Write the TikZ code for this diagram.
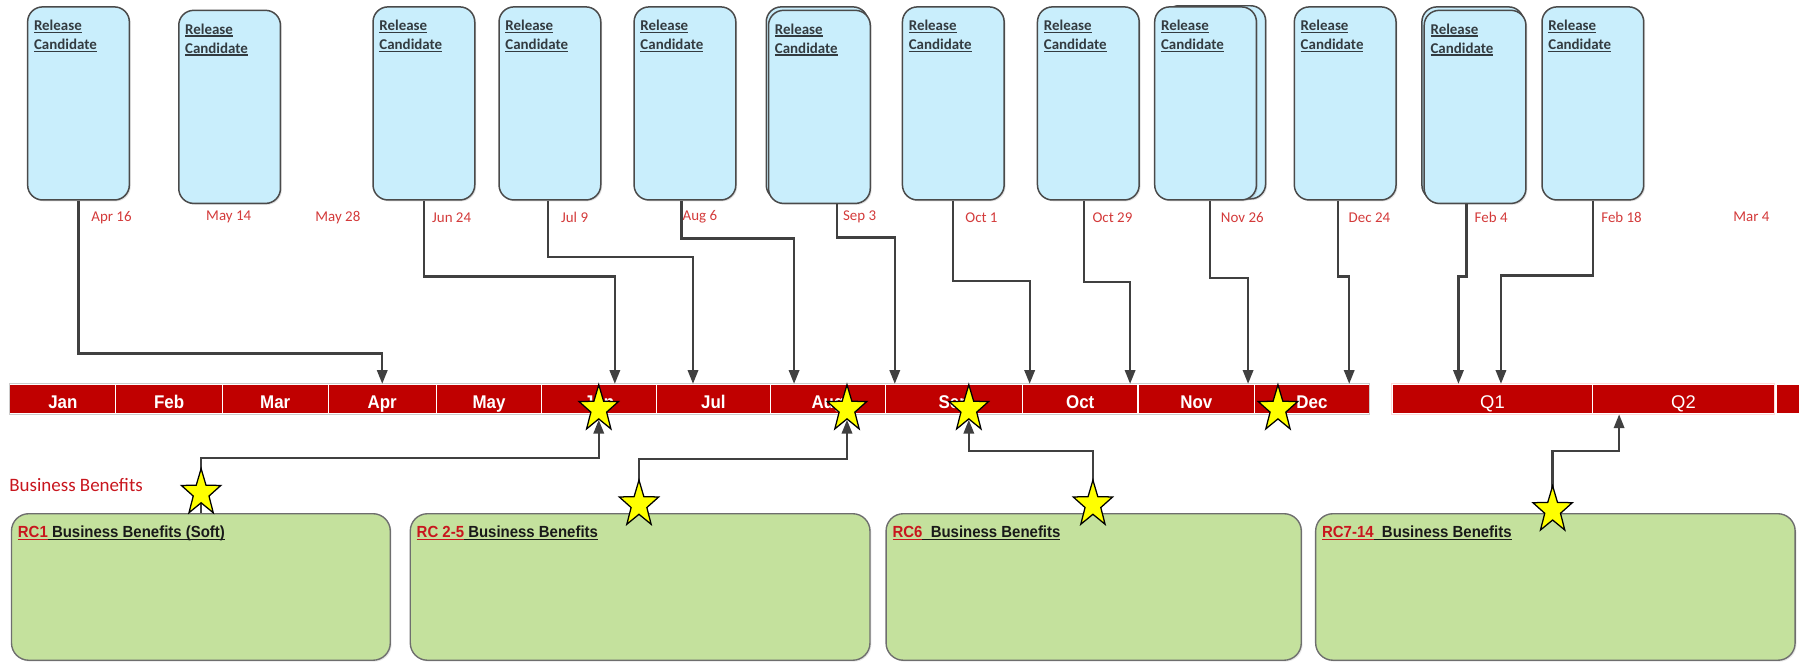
\documentclass[tikz,border=0pt]{standalone}
\usepackage{fontspec}
\setmainfont{Carlito}
\newfontfamily\lsans{Liberation Sans}
\usetikzlibrary{arrows.meta,shapes.geometric,shadows}

\definecolor{rcblue}{HTML}{C9EEFC}
\definecolor{rcedge}{HTML}{4A4A4A}
\definecolor{bengreen}{HTML}{C4E19D}
\definecolor{benedge}{HTML}{6E6E6E}
\definecolor{barred}{HTML}{C00000}
\definecolor{datered}{HTML}{D33A3A}
\definecolor{labred}{HTML}{C8161E}
\definecolor{conngray}{HTML}{404040}
\definecolor{rcink}{HTML}{333B40}
\definecolor{staryellow}{HTML}{FFFF00}

% underline with a fixed offset and thickness
\newsavebox\ulbox
\newcommand\ulx[1]{\sbox\ulbox{#1}\rlap{\rule[-2.2pt]{\wd\ulbox}{1pt}}\usebox\ulbox}
\newcommand\mlab[1]{\scalebox{0.92}[1]{#1}}
\newcommand\hdr[2]{\scalebox{0.93}[1]{\textcolor{labred}{\ulx{#1}}\ulx{#2}}}
\newcommand\rcname{\ulx{Release}\\\ulx{Candidate}}

\tikzset{
  rcbox/.style={draw=rcedge, fill=rcblue, line width=1.3pt, rounded corners=13pt,
    minimum width=88.5pt, minimum height=168pt, inner sep=0pt,
    drop shadow={shadow xshift=1.2pt, shadow yshift=-1.2pt, opacity=0.25}},
  rctext/.style={anchor=north west, inner sep=0pt, align=left, text=rcink,
    font=\bfseries\fontsize{13}{16.5}\selectfont},
  datelab/.style={text=datered, inner sep=0pt, font=\fontsize{13}{15}\selectfont},
  seg/.style={fill=barred, draw=white, line width=1pt, minimum height=25.5pt,
    inner sep=0pt, text=white, text height=16pt, text depth=0pt,
    font=\lsans\bfseries\fontsize{16}{18}\selectfont},
  qseg/.style={seg, font=\lsans\fontsize{16}{18}\selectfont},
  gbox/.style={draw=benedge, fill=bengreen, line width=1.2pt, rounded corners=15pt,
    minimum height=127.5pt, inner sep=0pt,
    drop shadow={shadow xshift=1.2pt, shadow yshift=-1.2pt, opacity=0.2}},
  ghead/.style={anchor=base west, inner sep=0pt, text=black!90,
    font=\lsans\bfseries\fontsize{14}{16}\selectfont},
  conn/.style={draw=conngray, line width=2pt, -{Triangle[length=12pt,width=9pt]}},
  bstar/.style={star, star points=5, star point ratio=2.5, minimum size=36pt,
    inner sep=0pt, fill=staryellow, draw=black, line width=1.1pt,
    yscale=1.18, transform shape},
}

\begin{document}
\begin{tikzpicture}[x=1pt, y=-1pt]
\useasboundingbox (0,0) rectangle (1568,576);

% ---- release candidate boxes ----
\node[rcbox] (b1) at (68.3,90) {};
\node[rcbox] (b2) at (199.8,93) {};
\node[rcbox] (b3) at (368.85,90) {};
\node[rcbox] (b4) at (478.5,90) {};
\node[rcbox] (b5) at (596,90) {};
\node[rcbox] (b6back) at (711,90) {};
\node[rcbox] (b6) at (713,93) {};
\node[rcbox] (b7) at (829.5,90) {};
\node[rcbox] (b8) at (947,90) {};
\node[rcbox] (b9back) at (1057,89) {};
\node[rcbox] (b9) at (1049,90) {};
\node[rcbox] (b10) at (1170.5,90) {};
\node[rcbox] (b11back) at (1281.5,90) {};
\node[rcbox] (b11) at (1283.5,93) {};
\node[rcbox] (b12) at (1386,90) {};

\foreach \b in {b1,b2,b3,b4,b5,b6,b7,b8,b9,b10,b11,b12}
  \node[rctext] (\b t) at ([xshift=6pt,yshift=-12pt]\b.north west) {\rcname};

% ---- release dates ----
\node[datelab] (d1) at (97,189) {Apr 16};
\node[datelab] (d2) at (199,189) {May 14};
\node[datelab] (d3) at (294,189) {May 28};
\node[datelab] (d4) at (393,189) {Jun 24};
\node[datelab] (d5) at (500,189) {Jul 9};
\node[datelab] (d6) at (609,189) {Aug 6};
\node[datelab] (d7) at (748,189) {Sep 3};
\node[datelab] (d8) at (854,189) {Oct 1};
\node[datelab] (d9) at (968,189) {Oct 29};
\node[datelab] (d10) at (1081,189) {Nov 26};
\node[datelab] (d11) at (1191.6,189) {Dec 24};
\node[datelab] (d12) at (1297.5,189) {Feb 4};
\node[datelab] (d13) at (1411,189) {Feb 18};
\node[datelab] (d14) at (1524,189) {Mar 4};

% ---- timeline ----
\node[seg, minimum width=92.2pt] (mJan) at (54.7,347.25) {\mlab{Jan}};
\node[seg, minimum width=92.6pt] (mFeb) at (147.1,347.25) {\mlab{Feb}};
\node[seg, minimum width=92.2pt] (mMar) at (239.5,347.25) {\mlab{Mar}};
\node[seg, minimum width=94pt] (mApr) at (332.6,347.25) {\mlab{Apr}};
\node[seg, minimum width=91.8pt] (mMay) at (425.5,347.25) {\mlab{May}};
\node[seg, minimum width=100pt] (mJun) at (521.4,347.25) {\mlab{Jun}};
\node[seg, minimum width=98.8pt] (mJul) at (620.8,347.25) {\mlab{Jul}};
\node[seg, minimum width=100.5pt] (mAug) at (720.45,347.25) {\mlab{Aug}};
\node[seg, minimum width=119pt] (mSep) at (830.2,347.25) {\mlab{Sep}};
\node[seg, minimum width=100.5pt] (mOct) at (939.95,347.25) {\mlab{Oct}};
\node[seg, minimum width=101.6pt] (mNov) at (1041,347.25) {\mlab{Nov}};
\node[seg, minimum width=99.6pt] (mDec) at (1141.6,347.25) {\mlab{Dec}};
\draw[black!20, line width=0.8pt] (mJan.north west) rectangle (mDec.south east);

\node[qseg, minimum width=174.3pt] (mQ1) at (1298.65,347.25) {Q1};
\node[qseg, minimum width=158.1pt] (mQ2) at (1464.85,347.25) {Q2};
\node[qseg, minimum width=20pt] (mQx) at (1556,347.25) {};
\draw[red!15, line width=0.8pt] (mQ1.north west) rectangle (mQ2.south east);

% ---- business benefit boxes ----
\node[anchor=west, inner sep=0pt, text=labred, font=\fontsize{16.5}{18}\selectfont]
  (bblab) at (8,422) {Business Benefits};

\node[gbox, minimum width=329.6pt] (g1) at (174.8,510.75) {};
\node[gbox, minimum width=400pt] (g2) at (557,510.75) {};
\node[gbox, minimum width=361.3pt] (g3) at (951.65,510.75) {};
\node[gbox, minimum width=417.2pt] (g4) at (1353.4,510.75) {};

\node[ghead] (g1h) at ([xshift=6pt,yshift=-21.5pt]g1.north west) {\hdr{RC1}{\ Business Benefits (Soft)}};
\node[ghead] (g2h) at ([xshift=6pt,yshift=-21.5pt]g2.north west) {\hdr{RC 2-5}{\ Business Benefits}};
\node[ghead] (g3h) at ([xshift=6pt,yshift=-21.5pt]g3.north west) {\hdr{RC6}{\ \ Business Benefits}};
\node[ghead] (g4h) at ([xshift=6pt,yshift=-21.5pt]g4.north west) {\hdr{RC7-14}{\ \ Business Benefits}};

% ---- star centres ----
\coordinate (cJun) at (521,356);
\coordinate (cAug) at (737,356);
\coordinate (cSep) at (843,356);
\coordinate (cDec) at (1112,356);
\coordinate (c1) at (175,429);
\coordinate (c2) at (556,439);
\coordinate (c3) at (951,439);
\coordinate (c4) at (1351,444);

% ---- release candidate connectors ----
\draw[conn] (b1.south) -- ++(0,133) -| (mApr.north);
\draw[conn] (b3.south) -- ++(0,66) -| ([xshift=13.6pt]mJun.north);
\draw[conn] ([xshift=-1.5pt]b4.south) -- ++(0,49) -| ([xshift=-17.8pt]mJul.north);
\draw[conn] ([xshift=-3pt]b5.south) -- ++(0,33) -| ([xshift=-29.5pt]mAug.north);
\draw[conn] ([xshift=15pt]b6.south) -- ++(0,29) -| ([xshift=-51.6pt]mSep.north);
\draw[conn] (b7.south) -- ++(0,70) -| ([xshift=-44pt]mOct.north);
\draw[conn] ([xshift=-4pt]b8.south) -- ++(0,71) -| ([xshift=43.4pt]mOct.north);
\draw[conn] ([xshift=4pt]b9.south) -- ++(0,67) -| ([xshift=45pt]mNov.north);
\draw[conn] ([xshift=-6pt]b10.south) -- ++(0,66) -| ([xshift=32.4pt]mDec.north);
\draw[conn] ([xshift=-7.5pt]b11.south) -- ++(0,63) -| ([xshift=-29.6pt]mQ1.north);
\draw[conn] (b12.south) -- ++(0,65) -| ([xshift=7.4pt]mQ1.north);

% ---- stars on the timeline ----
\node[bstar] (tsJun) at (cJun) {};
\node[bstar] (tsAug) at (cAug) {};
\node[bstar] (tsSep) at (cSep) {};
\node[bstar] (tsDec) at (cDec) {};

% ---- benefit connectors (behind the benefit stars) ----
\draw[conn] (c1 |- g1.north) -- ++(0,-48) -| (tsJun.south);
\draw[conn] (c2 |- g2.north) -- ++(0,-47) -| (tsAug.south);
\draw[conn] (c3 |- g3.north) -- ++(0,-54) -| (tsSep.south);
\draw[conn] (c4 |- g4.north) -- ++(0,-54) -| ([xshift=-56pt]mQ2.south);

\node[bstar] (bs1) at (c1) {};
\node[bstar] (bs2) at (c2) {};
\node[bstar] (bs3) at (c3) {};
\node[bstar] (bs4) at (c4) {};
\end{tikzpicture}
\end{document}
